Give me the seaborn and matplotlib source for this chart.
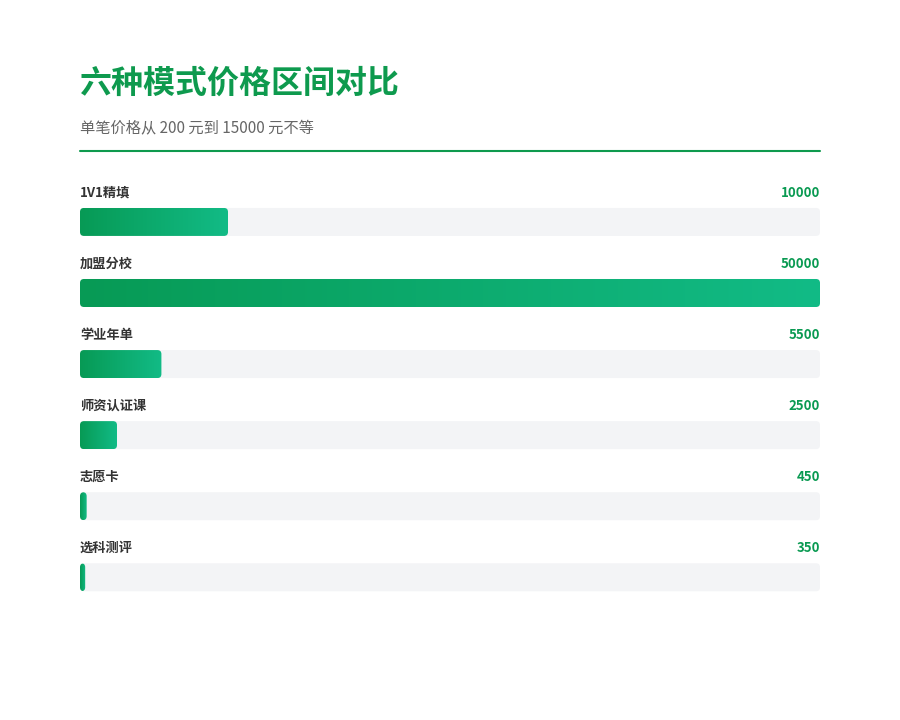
import matplotlib

matplotlib.use("Agg")
import matplotlib.pyplot as plt
import numpy as np
import pandas as pd
import seaborn as sns
from matplotlib.colors import LinearSegmentedColormap
from matplotlib.patches import FancyBboxPatch

categories = ["1V1精填", "加盟分校", "学业年单", "师资认证课", "志愿卡", "选科测评"]
prices = [10000, 50000, 5500, 2500, 450, 350]
max_price = 50000
title = "六种模式价格区间对比"
subtitle = "单笔价格从 200 元到 15000 元不等"

sns.set_theme(style="white")
plt.rcParams["font.family"] = ["Noto Sans CJK SC", "DejaVu Sans"]

df = pd.DataFrame({"category": categories, "price": prices})
df["track"] = max_price

fig = plt.figure(figsize=(9, 7.2), dpi=100)
ax = fig.add_axes([80 / 900, 1 - 600 / 720, 740 / 900, 420 / 720])

sns.barplot(data=df, x="track", y="category", color="#f3f4f6", width=0.394, ax=ax)
n_track = len(ax.patches)
sns.barplot(data=df, x="price", y="category", color="#10b981", width=0.394, ax=ax)

cmap = LinearSegmentedColormap.from_list("g", ["#079a55", "#12bb86"])
grad = np.linspace(0, 1, 256).reshape(1, -1)
for i, p in enumerate(list(ax.patches)):
    x0, y0, w, h = p.get_x(), p.get_y(), p.get_width(), p.get_height()
    p.set_visible(False)
    rad = 4 * max_price / 740
    box = FancyBboxPatch((x0, y0), w, h, boxstyle=f"round,pad=0,rounding_size={rad}",
                         mutation_aspect=(0.394 / 28) / (max_price / 740),
                         linewidth=0, transform=ax.transData)
    if i < n_track:
        box.set_facecolor("#f3f4f6")
        ax.add_patch(box)
    else:
        box.set_facecolor("none")
        ax.add_patch(box)
        im = ax.imshow(grad, cmap=cmap, aspect="auto", extent=(x0, x0 + w, y0 + h, y0),
                       interpolation="bicubic", zorder=3)
        im.set_clip_path(box)

for i, (c, v) in enumerate(zip(categories, prices)):
    ax.text(0, i - 0.41, c, ha="left", va="center", fontsize=9.5,
            fontweight="bold", color="#333333")
    ax.text(max_price, i - 0.41, f"{v}", ha="right", va="center", fontsize=9.5,
            fontweight="bold", color="#0a9a52")

ax.set_xlim(0, max_price)
ax.set_ylim(5.32, -0.59)
ax.set_axis_off()

fig.text(80 / 900, 1 - 84 / 720, title, fontsize=23, fontweight="bold",
         color="#0e9a4e", va="center", ha="left")
fig.text(80 / 900, 1 - 128 / 720, subtitle, fontsize=11, color="#666666",
         va="center", ha="left")
fig.add_artist(plt.Line2D([80 / 900, 820 / 900], [1 - 151 / 720] * 2,
                          color="#0e9a4e", lw=1.5))

fig.savefig("out.png", dpi=100)
